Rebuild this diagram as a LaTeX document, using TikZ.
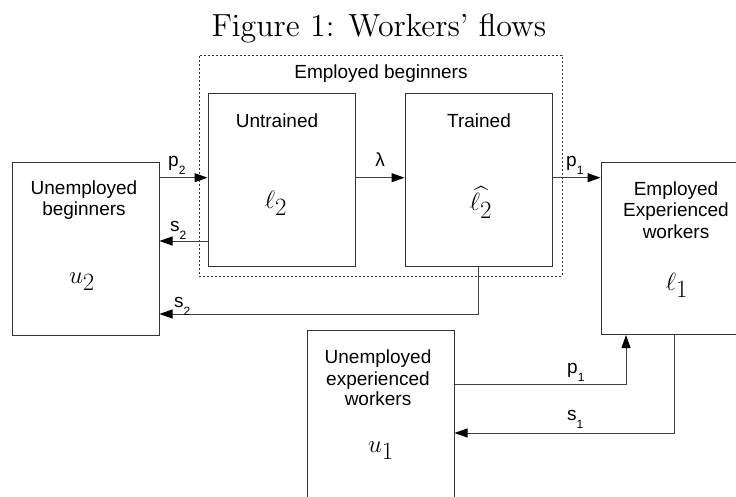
\documentclass[tikz,border=0pt]{standalone}
\usepackage{amsmath}
\usepackage{fontspec}
\setsansfont{Liberation Sans}
\usetikzlibrary{arrows.meta}
\newcommand\lblsub[2]{#1\raisebox{-8pt}{\fontsize{12pt}{12pt}\selectfont #2}}
\font\titlefnt=cmr12 at 32pt
\begin{document}
\begin{tikzpicture}[x=1pt,y=-1pt,
  box/.style={draw=black!80, line width=1pt, minimum width=147pt, minimum height=172pt, inner sep=0pt},
  flow/.style={draw=black!75, line width=1pt, -{Triangle[length=13pt,width=9pt,color=black]}},
  sans/.style={font=\fontsize{19pt}{21pt}\selectfont\sffamily, inner sep=0pt, anchor=base},
  lbl/.style={font=\fontsize{19pt}{21pt}\selectfont\sffamily, inner sep=0pt, anchor=base west},
  mth/.style={font=\fontsize{36pt}{40pt}\selectfont, inner sep=0pt, anchor=base}]
\clip (0,0) rectangle (736,497);
% title
\node[font=\titlefnt, anchor=base, inner sep=0pt] (title) at (379,37) {Figure 1: Workers' flows};
% boxes
\node[draw=black!80, dash pattern=on 2pt off 2pt, line width=0.8pt, minimum width=363pt, minimum height=221pt, inner sep=0pt] (emp) at (380.5,165.5) {};
\node[box] (u2) at (85.5,249) {};
\node[box] (untr) at (281.5,180) {};
\node[box] (tr) at (478.5,180) {};
\node[box] (l1) at (674.5,248.5) {};
\node[box] (u1) at (380.5,416) {};
% texts
\node[sans] (empt) at (381,79) {Employed beginners};
\node[sans] (untrt) at (277,128) {Untrained};
\node[sans] (trt) at (479,128) {Trained};
\node[mth] (untrm) at (276,208) {$\ell_2$};
\node[mth] (trm) at (481,211) {$\widehat{\ell_2}$};
\node[sans] (u2ta) at (84,195) {Unemployed};
\node[sans] (u2tb) at (84,215) {beginners};
\node[mth] (u2m) at (82,283) {$u_2$};
\node[sans] (l1ta) at (676,196) {Employed};
\node[sans] (l1tb) at (676,217) {Experienced};
\node[sans] (l1tc) at (676,238) {workers};
\node[mth] (l1m) at (677,290) {$\ell_1$};
\node[sans] (u1ta) at (378,363) {Unemployed};
\node[sans] (u1tb) at (378,385) {experienced};
\node[sans] (u1tc) at (378,405) {workers};
\node[mth] (u1m) at (381,452) {$u_1$};
% levels
\coordinate (r1) at (0,177.7);
\coordinate (r2) at (0,241);
\coordinate (r3) at (0,314);
\coordinate (r4) at (0,384);
\coordinate (r5) at (0,433);
\coordinate (c4) at (626,0);
% connectors
\draw[flow] (u2.east |- r1) -- (untr.west |- r1);
\draw[flow] (untr.east |- r1) -- (tr.west |- r1);
\draw[flow] (tr.east |- r1) -- (l1.west |- r1);
\draw[flow] (untr.west |- r2) -- (u2.east |- r2);
\draw[flow] (tr.south) |- (u2.east |- r3);
\draw[flow] (u1.east |- r4) -| (l1.south -| c4);
\draw[flow] (l1.south) |- (u1.east |- r5);
% labels
\node[lbl] (lp2) at (168,167) {\lblsub{p}{2}};
\node[lbl] (ls2a) at (170,232) {\lblsub{s}{2}};
\node[lbl] (ls2b) at (174,307) {\lblsub{s}{2}};
\node[sans] (llam) at (380,167) {λ};
\node[lbl] (lp1a) at (566,167) {\lblsub{p}{1}};
\node[lbl] (lp1b) at (567,373) {\lblsub{p}{1}};
\node[lbl] (ls1) at (567,420) {\lblsub{s}{1}};
\end{tikzpicture}
\end{document}
